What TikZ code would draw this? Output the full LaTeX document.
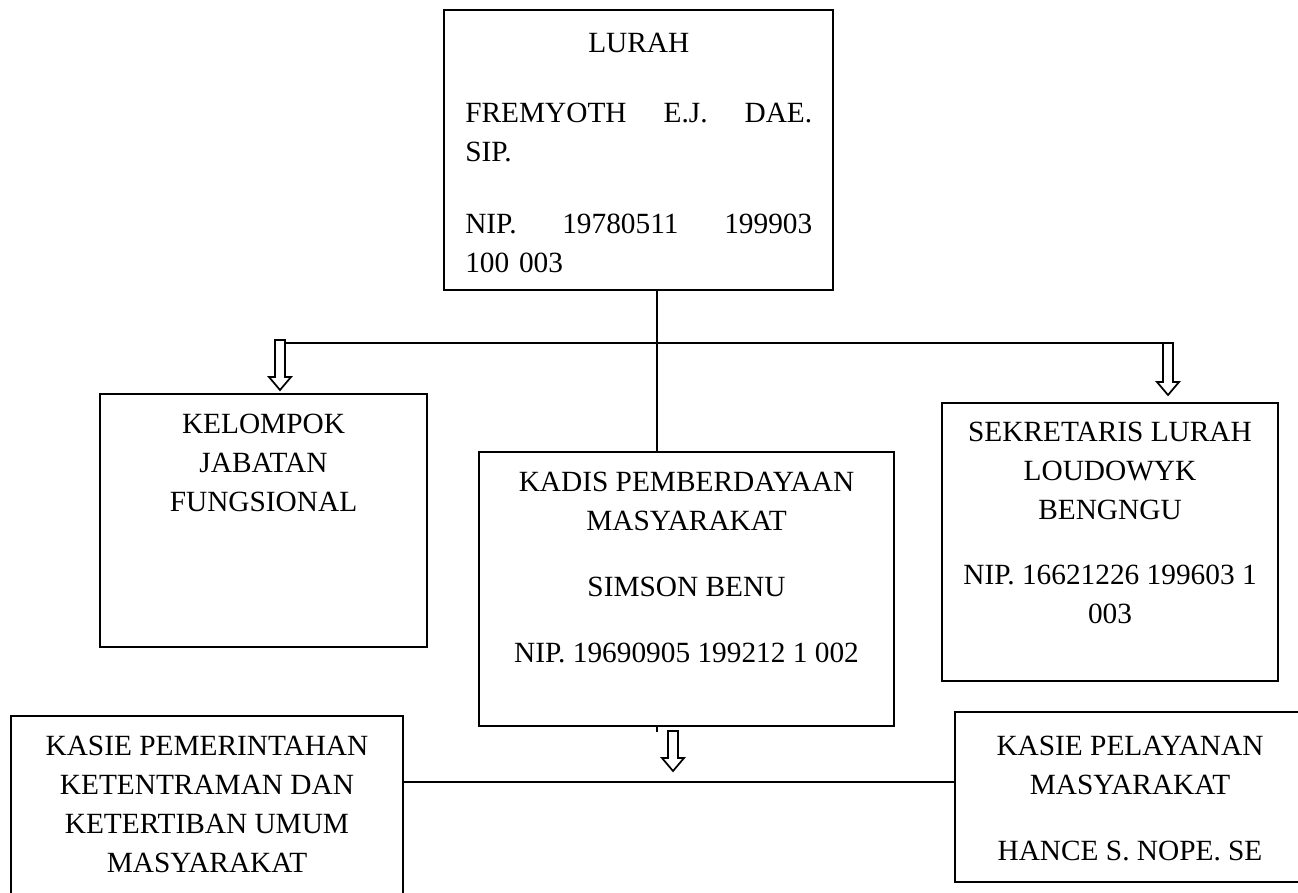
\documentclass[tikz,border=0pt]{standalone}
\usepackage{fontspec}
\setmainfont{Liberation Serif}
\usetikzlibrary{fit}
\newlength\pxu
\setlength\pxu{0.75pt}
\newcommand\fs{\fontsize{22pt}{29.25pt}\selectfont}
\newcommand\hollowdown[4]{%
  \coordinate (#1) at (#2,#3);
  \draw[arrowst] (#2-5,#3) -- (#2+5,#3) -- (#2+5,#4-13) -- (#2+11,#4-13) -- (#2,#4) -- (#2-11,#4-13) -- (#2-5,#4-13) -- cycle;}
\tikzset{
  box/.style={draw, line width=1.45pt, inner sep=0pt, rectangle},
  txt/.style={inner sep=0pt, align=center, font=\fs},
  conn/.style={line width=1.45pt},
  arrowst/.style={line width=1.3pt, fill=white, line join=miter}
}
\begin{document}
\begin{tikzpicture}[x=0.75pt, y=-0.75pt]
\clip[use as bounding box] (0,0) rectangle (1298,892);
\fill[white] (0,0) rectangle (1298,892);

% boxes
\node[box, fit={(444,10) (833,290)}] (lurah) {};
\node[box, fit={(100,394) (427,647)}] (kel) {};
\node[box, fit={(479,452) (894,726)}] (kadis) {};
\node[box, fit={(942,403) (1278,681)}] (sek) {};
\node[box, fit={(11,716) (403,905)}] (pem) {};
\node[box, fit={(955,712) (1305,882)}] (pel) {};

% texts
\node[txt, align=left, text width=347\pxu, anchor=north west] (lurahT) at (465,33)
  {\hfill LURAH\hfill\null\\[31\pxu]
   FREMYOTH\hfill E.J.\hfill DAE.\\
   SIP.\\[33\pxu]
   NIP.\hfill 19780511\hfill 199903\\
   100 003};
\node[txt, anchor=north] (kelT) at (263.5,414) {KELOMPOK\\JABATAN\\FUNGSIONAL};
\node[txt, anchor=north] (kadisT) at (686.5,471.5)
  {KADIS PEMBERDAYAAN\\MASYARAKAT\\[27\pxu]SIMSON BENU\\[27\pxu]NIP. 19690905 199212 1 002};
\node[txt, anchor=north] (sekT) at (1110,421.5)
  {SEKRETARIS LURAH\\LOUDOWYK\\BENGNGU\\[26\pxu]NIP. 16621226 199603 1\\003};
\node[txt, anchor=north] (pemT) at (207,735.5)
  {KASIE PEMERINTAHAN\\KETENTRAMAN DAN\\KETERTIBAN UMUM\\MASYARAKAT};
\node[txt, anchor=north] (pelT) at (1130,736)
  {KASIE PELAYANAN\\MASYARAKAT\\[27\pxu]HANCE S. NOPE. SE};

% connectors
\coordinate (spine) at (657,0);
\draw[conn] (lurah.south -| spine) -- (kadis.north -| spine);
\draw[conn] (kadis.south -| spine) -- ++(0,5);
\hollowdown{arrL}{280}{340}{390}
\hollowdown{arrR}{1168}{343}{395}
\coordinate (barL) at (285,343);
\coordinate (barR) at (1163,343);
\draw[conn] (barL) -- (barR);
\hollowdown{arrB}{673}{731}{771}
\coordinate (lowbar) at (0,782);
\draw[conn] (pem.east |- lowbar) -- (pel.west |- lowbar);
\end{tikzpicture}
\end{document}
